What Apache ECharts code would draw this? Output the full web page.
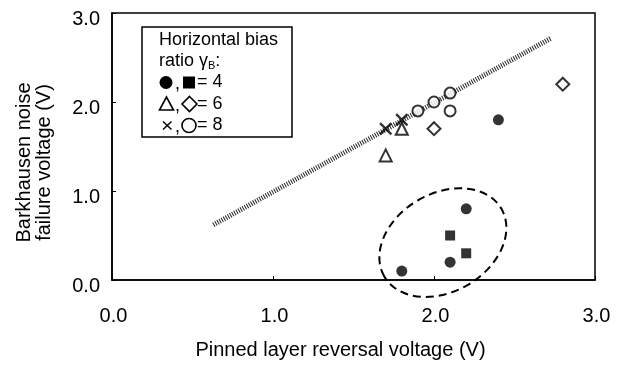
<!DOCTYPE html>
<html>
<head>
<meta charset="utf-8">
<script src="https://cdn.jsdelivr.net/npm/echarts@6/dist/echarts.min.js"></script>
<style>html,body{margin:0;padding:0;background:#fff;}#c{width:627px;height:365px;}</style>
</head>
<body>
<div id="c"></div>
<script>
// Data (x: pinned layer reversal voltage, y: Barkhausen noise failure voltage)
var gamma4Circles = [[2.4, 1.8], [2.2, 0.8], [2.1, 0.2], [1.8, 0.1]];
var gamma4Squares = [[2.1, 0.5], [2.2, 0.3]];
var gamma6Triangles = [[1.7, 1.4], [1.8, 1.7]];
var gamma6Diamonds = [[2.0, 1.7], [2.8, 2.2]];
var gamma8Crosses = [[1.7, 1.7], [1.8, 1.8]];
var gamma8Circles = [[1.9, 1.9], [2.0, 2.0], [2.1, 2.1], [2.1, 1.9]];
var trendLine = [[0.63, 0.62], [2.73, 2.72]];
// dashed ellipse annotation: center x, center y, semi-axes (in x-axis units), tilt (deg)
var ellipseNote = [[2.055, 0.42, 0.42, 0.305, 30]];
var legendLabels = ['Horizontal bias', 'ratio γ{s|B}:', '= 4', '= 6', '= 8'];

var FONT = '"Liberation Sans", Arial, Helvetica, sans-serif';
var chart = echarts.init(document.getElementById('c'), null, {renderer: 'canvas'});
var crossPath = 'path://M0,1.3 L1.3,0 L5,3.7 L8.7,0 L10,1.3 L6.3,5 L10,8.7 L8.7,10 L5,6.3 L1.3,10 L0,8.7 L3.7,5 Z';

function axisCommon() {
  return {
    type: 'value', min: 0, max: 3, interval: 1,
    axisLine: {show: true, lineStyle: {color: '#000', width: 1.5}},
    axisTick: {show: true, inside: true, length: 4, lineStyle: {color: '#000', width: 1}},
    splitLine: {show: false},
    axisLabel: {color: '#000', fontFamily: FONT, fontSize: 20,
      formatter: function (v) { return v.toFixed(1); }}
  };
}
var xAxis = axisCommon();
xAxis.name = 'Pinned layer reversal voltage (V)';
xAxis.nameLocation = 'middle';
xAxis.nameGap = 60;
xAxis.nameTextStyle = {color: '#000', fontFamily: FONT, fontSize: 20, padding: [0, 26, 0, 0]};
xAxis.axisLabel.margin = 26;
xAxis.axisLabel.padding = [0, 0, 0, 3];

var yAxis = axisCommon();
yAxis.name = 'Barkhausen noise\nfailure voltage (V)';
yAxis.nameLocation = 'middle';
yAxis.nameGap = 58;
yAxis.nameTextStyle = {color: '#000', fontFamily: FONT, fontSize: 20, lineHeight: 20, padding: [0, 32, 0, 0]};
yAxis.axisLabel.margin = 12;
yAxis.axisLabel.formatter = function (v) { return '{v|' + v.toFixed(1) + '}'; };
yAxis.axisLabel.rich = {v: {fontFamily: FONT, fontSize: 20, color: '#000', padding: [12, 0, 0, 0]}};

var openStyle = {color: '#fff', borderColor: '#000', borderWidth: 2};

var lineY = [40, 61.5, 82.5, 104, 125.5];
var legendGraphics = [{
  type: 'rect', x: 142, y: 27, z: 100,
  shape: {width: 150, height: 110},
  style: {fill: '#fff', stroke: '#000', lineWidth: 1.5}
}];
legendLabels.forEach(function (t, i) {
  legendGraphics.push({
    type: 'text', x: (i < 2 ? 159 : 197), y: lineY[i], z: 101,
    style: {
      text: t, fill: '#000', font: '18px ' + FONT, verticalAlign: 'middle',
      rich: {s: {fontSize: 11, fontFamily: FONT, fill: '#000', padding: [8, 0, 0, 0]}}
    }
  });
  if (i >= 2) {
    legendGraphics.push({type: 'text', x: 175, y: lineY[i] + 2, z: 101,
      style: {text: ',', fill: '#000', font: '18px ' + FONT, verticalAlign: 'middle'}});
  }
});
var sym = {fill: '#000'};
var open = {fill: '#fff', stroke: '#000', lineWidth: 1.6};
legendGraphics.push(
  {type: 'circle', z: 101, shape: {cx: 166, cy: lineY[2], r: 6.5}, style: sym},
  {type: 'rect', z: 101, shape: {x: 183, y: lineY[2] - 6, width: 12, height: 12}, style: sym},
  {type: 'polygon', z: 101, shape: {points: [[166.5, lineY[3] - 7], [159.5, lineY[3] + 6], [173.5, lineY[3] + 6]]}, style: open},
  {type: 'polygon', z: 101, shape: {points: [[189.5, lineY[3] - 7.5], [197, lineY[3]], [189.5, lineY[3] + 7.5], [182, lineY[3]]]}, style: open},
  {type: 'line', z: 101, shape: {x1: 163, y1: lineY[4] - 4, x2: 171.5, y2: lineY[4] + 4}, style: {stroke: '#000', lineWidth: 1.5}},
  {type: 'line', z: 101, shape: {x1: 171.5, y1: lineY[4] - 4, x2: 163, y2: lineY[4] + 4}, style: {stroke: '#000', lineWidth: 1.5}},
  {type: 'circle', z: 101, shape: {cx: 189, cy: lineY[4], r: 7}, style: open}
);

var option = {
  animation: false,
  backgroundColor: '#fff',
  grid: {left: 112, right: 32, top: 13, bottom: 82, show: true, borderColor: '#000', borderWidth: 1.5, backgroundColor: 'transparent'},
  xAxis: xAxis,
  yAxis: yAxis,
  graphic: legendGraphics,
  series: [
    {type: 'line', data: trendLine, symbol: 'none', z: 1,
      lineStyle: {color: '#222', width: 5, type: [1, 1.4], cap: 'butt'}},
    {type: 'custom', data: ellipseNote, z: 2, clip: false,
      renderItem: function (params, api) {
        var c = api.coord([api.value(0), api.value(1)]);
        var rx = api.size([api.value(2), 0])[0];
        var ry = api.size([api.value(3), 0])[0];
        return {
          type: 'ellipse',
          shape: {cx: 0, cy: 0, rx: rx, ry: ry},
          x: c[0], y: c[1],
          rotation: api.value(4) * Math.PI / 180,
          style: {fill: 'none', stroke: '#000', lineWidth: 2, lineDash: [8, 5]}
        };
      }},
    {type: 'scatter', data: gamma4Circles, symbol: 'circle', symbolSize: 11, itemStyle: {color: '#000'}, z: 5},
    {type: 'scatter', data: gamma4Squares, symbol: 'rect', symbolSize: 10, itemStyle: {color: '#000'}, z: 5},
    {type: 'scatter', data: gamma6Triangles, symbol: 'triangle', symbolSize: 12, itemStyle: openStyle, z: 5},
    {type: 'scatter', data: gamma6Diamonds, symbol: 'diamond', symbolSize: 13, itemStyle: openStyle, z: 5},
    {type: 'scatter', data: gamma8Circles, symbol: 'circle', symbolSize: 11, itemStyle: openStyle, z: 5},
    {type: 'scatter', data: gamma8Crosses, symbol: crossPath, symbolSize: 13, itemStyle: {color: '#000'}, z: 6}
  ]
};
chart.setOption(option);
</script>
</body>
</html>
